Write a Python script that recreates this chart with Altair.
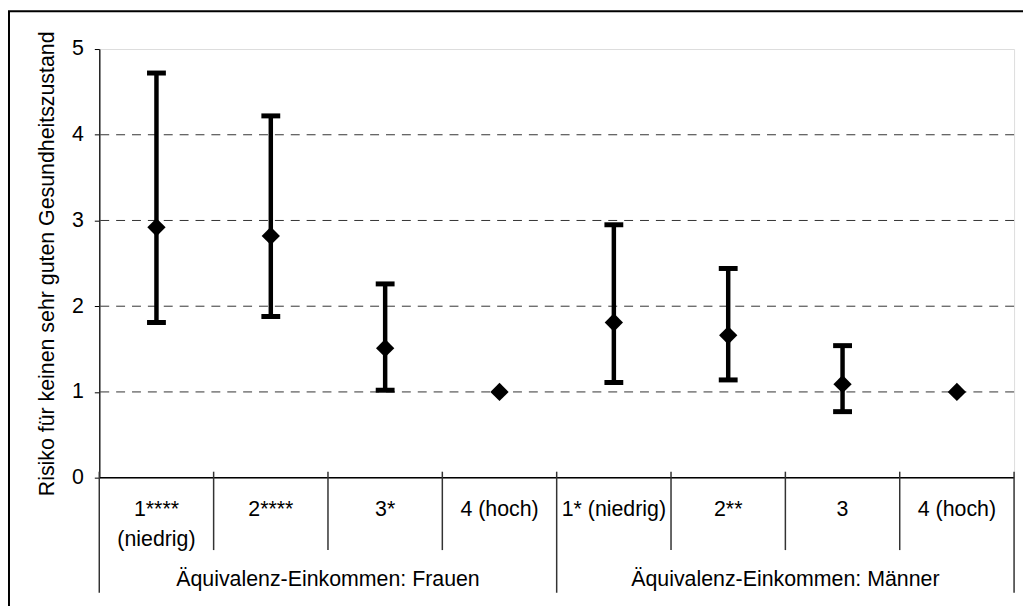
import altair as alt
import pandas as pd

# ---- data ----
categories = ["1****\n(niedrig)", "2****", "3*", "4 (hoch)",
              "1* (niedrig)", "2**", "3", "4 (hoch)"]
group_names = ["Äquivalenz-Einkommen: Frauen", "Äquivalenz-Einkommen: Männer"]
group_index = [0, 0, 0, 0, 1, 1, 1, 1]
estimate = [2.92, 2.82, 1.51, 1.00, 1.81, 1.66, 1.09, 1.00]
lower = [1.81, 1.88, 1.02, None, 1.11, 1.14, 0.77, None]
upper = [4.72, 4.22, 2.26, None, 2.95, 2.44, 1.54, None]
y_ticks = [0, 1, 2, 3, 4, 5]
grid_values = [1, 2, 3, 4]
y_title = "Risiko für keinen sehr guten Gesundheitszustand"

FONT = "Liberation Sans"
FS = 21.5
W, H = 922, 432
n = len(categories)

df = pd.DataFrame({
    "pos": [i + 0.5 for i in range(n)],
    "label": categories,
    "est": estimate,
    "lo": lower,
    "hi": upper,
})
err = df.dropna()

grp = pd.DataFrame({"pos": df["pos"], "g": group_index}).groupby("g")["pos"].mean().reset_index()
grp["name"] = [group_names[g] for g in grp["g"]]

bounds = list(range(n + 1))
outer_b = [0] + [i for i in range(1, n) if group_index[i] != group_index[i - 1]] + [n]
inner_b = [b for b in bounds if b not in outer_b]

xs = alt.Scale(domain=[0, n], nice=False, zero=False)
ys = alt.Scale(domain=[0, 5], nice=False)
yaxis = alt.Axis(values=y_ticks, grid=False, tickSize=5, tickColor="#000",
                 domainColor="#222", domainWidth=1.5, labelPadding=11,
                 labelFont=FONT, labelFontSize=FS, labelColor="#000",
                 title=y_title, titleFont=FONT, titleFontSize=FS,
                 titleFontWeight="normal", titleColor="#000", titlePadding=13)

def X(field):
    return alt.X(field, scale=xs, axis=None)

def Y(field):
    return alt.Y(field, scale=ys, axis=yaxis)

border = alt.Chart(pd.DataFrame({"a": [0]})).mark_rect(
    fillOpacity=0, stroke="#000", strokeWidth=2
).encode(x=alt.value(-91), x2=alt.value(W + 40), y=alt.value(-38), y2=alt.value(H + 200))

grid = alt.Chart(pd.DataFrame({"g": grid_values})).mark_rule(
    color="#333", strokeWidth=1, strokeDash=[9, 7]
).encode(y=Y("g:Q"))

xline = alt.Chart(pd.DataFrame({"v": [0]})).mark_rule(
    color="#000", strokeWidth=1.5
).encode(y=Y("v:Q"), x=alt.value(0), x2=alt.value(W))

sep_inner = alt.Chart(pd.DataFrame({"b": inner_b})).mark_rule(
    color="#333", strokeWidth=1.5
).encode(x=X("b:Q"), y=alt.value(H - 6), y2=alt.value(H + 73))

sep_outer = alt.Chart(pd.DataFrame({"b": outer_b})).mark_rule(
    color="#333", strokeWidth=1.5
).encode(x=X("b:Q"), y=alt.value(H - 6), y2=alt.value(H + 116))

bars = alt.Chart(err).mark_rule(color="#000", strokeWidth=4.5).encode(
    x=X("pos:Q"), y=Y("lo:Q"), y2="hi:Q")

cap_lo = alt.Chart(err).mark_tick(color="#000", orient="horizontal", size=19,
                                  thickness=5, opacity=1).encode(x=X("pos:Q"), y=Y("lo:Q"))
cap_hi = alt.Chart(err).mark_tick(color="#000", orient="horizontal", size=19,
                                  thickness=5, opacity=1).encode(x=X("pos:Q"), y=Y("hi:Q"))

points = alt.Chart(df).mark_point(shape="diamond", filled=True, size=340,
                                  color="#000", opacity=1).encode(
    x=X("pos:Q"), y=Y("est:Q"))

cat_text = alt.Chart(df).mark_text(
    font=FONT, fontSize=FS, baseline="alphabetic", align="center",
    lineBreak="\n", lineHeight=30, color="#000"
).encode(x=X("pos:Q"), y=alt.value(H + 39), text="label:N")

grp_text = alt.Chart(grp).mark_text(
    font=FONT, fontSize=FS, baseline="alphabetic", align="center", color="#000"
).encode(x=X("pos:Q"), y=alt.value(H + 109), text="name:N")

chart = alt.layer(
    border, grid, xline, sep_inner, sep_outer, bars, cap_lo, cap_hi, points,
    cat_text, grp_text
).properties(
    width=W, height=H,
    padding={"left": 92, "top": 39, "right": 9, "bottom": 127},
    autosize=alt.AutoSizeParams(type="none"),
).configure_view(
    stroke="#8c8c8c", strokeWidth=2
).configure(background="white")

chart.save("out.html", embed_options={"renderer": "svg", "actions": False})
